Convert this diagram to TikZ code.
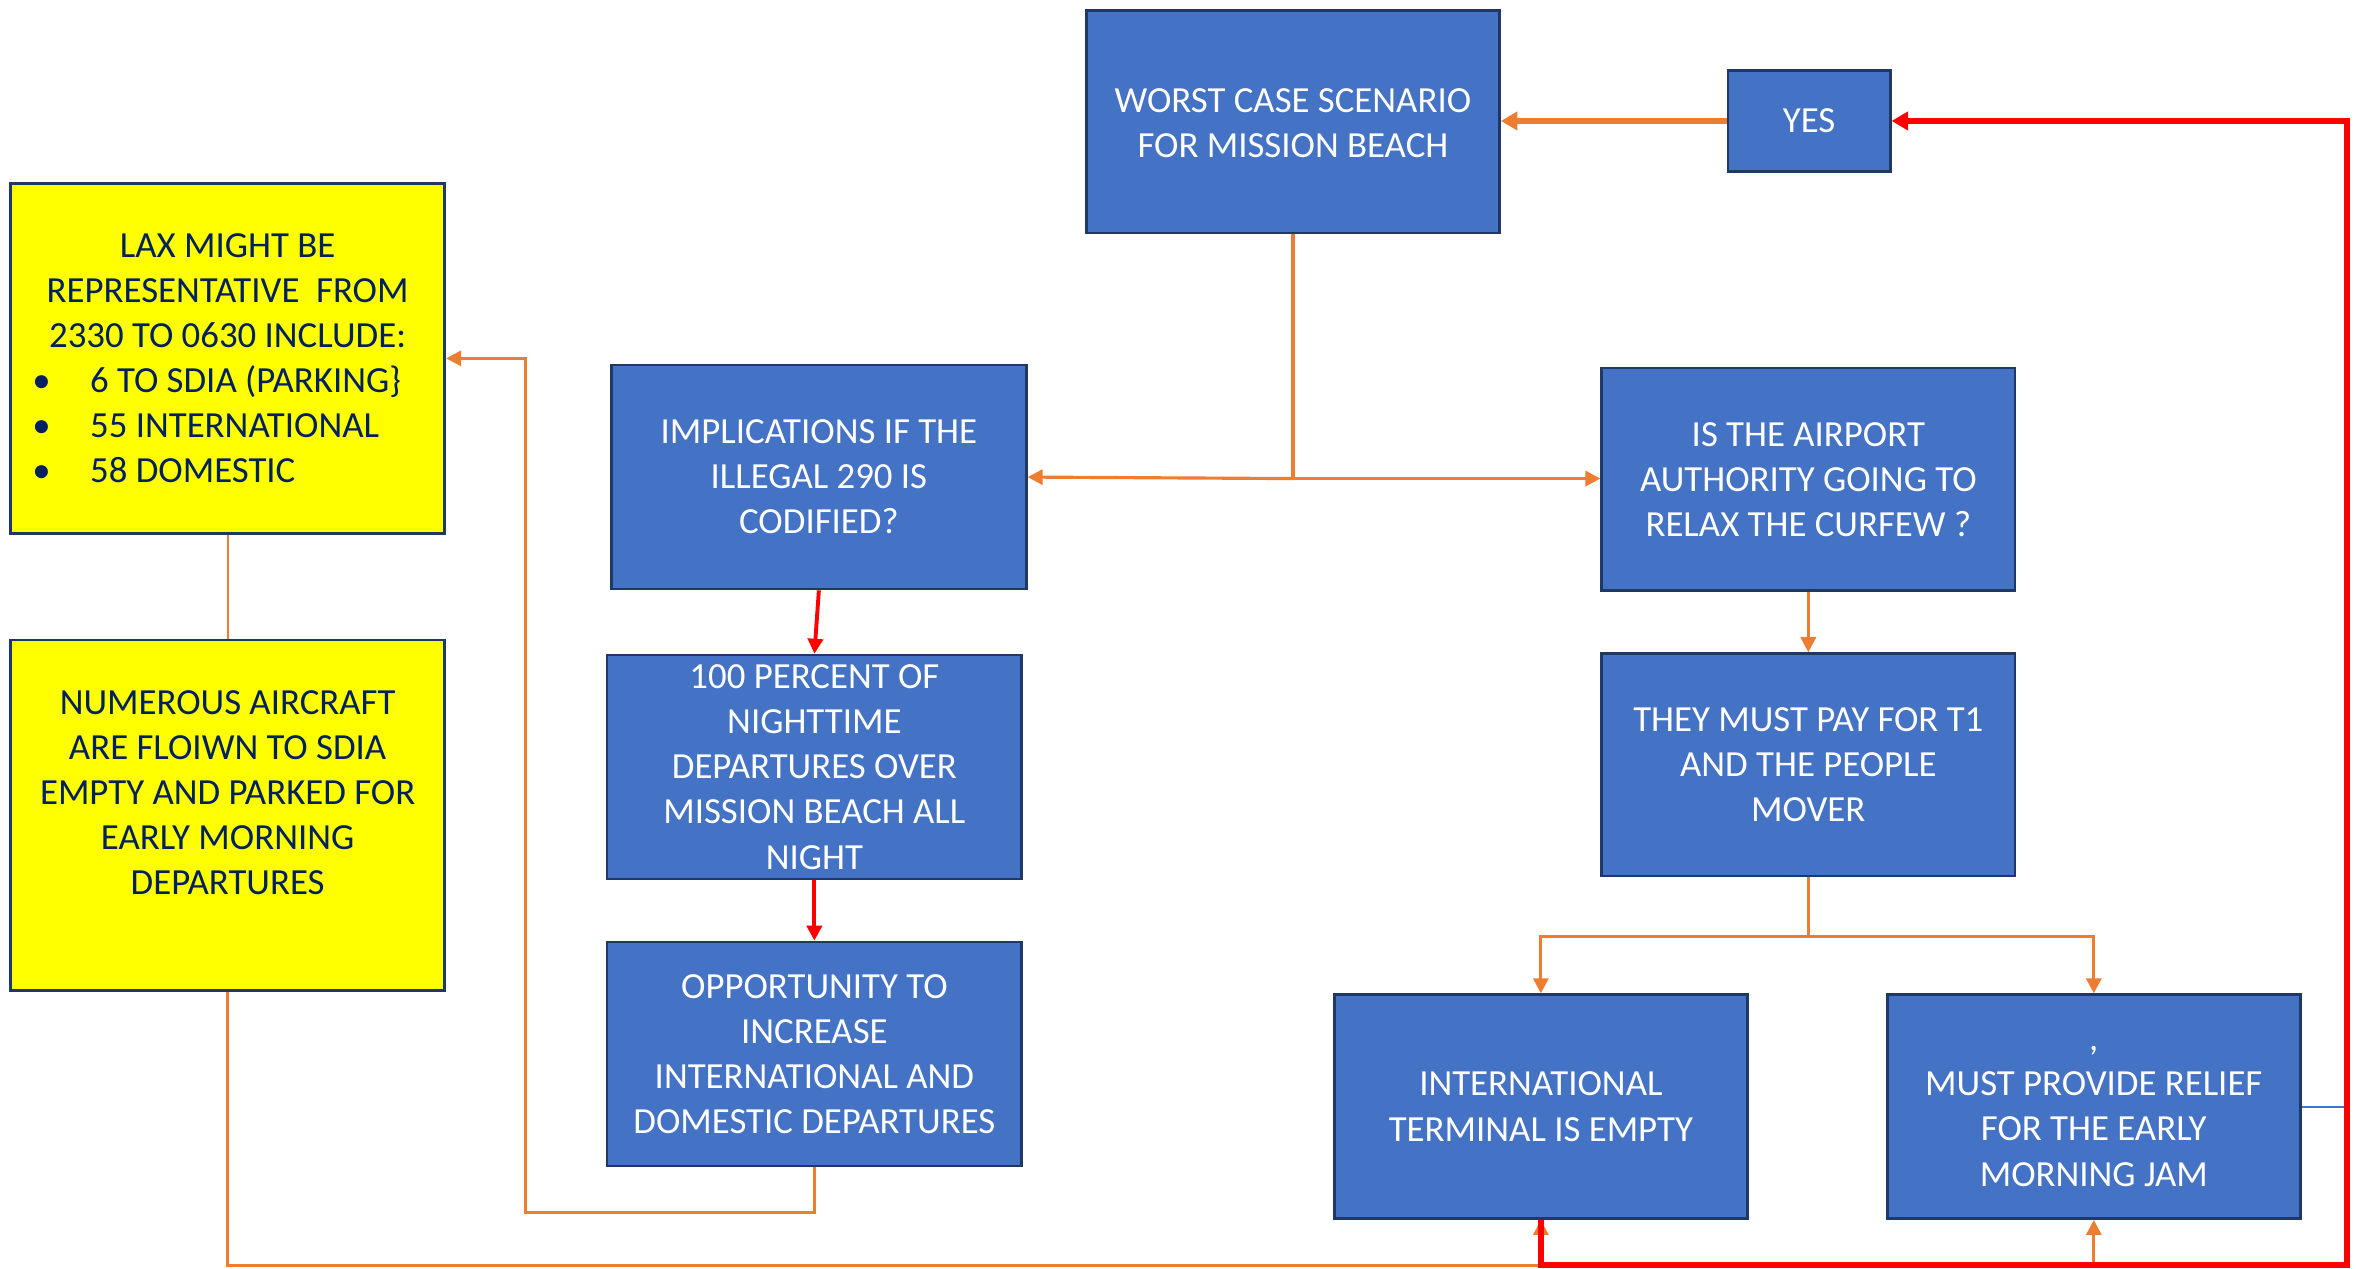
\documentclass[tikz,border=0pt]{standalone}
\usepackage{fontspec}
\setmainfont{Carlito}
\usetikzlibrary{arrows.meta}
\definecolor{boxblue}{HTML}{4472C4}
\definecolor{boxnavy}{HTML}{1F3864}
\definecolor{txtnavy}{HTML}{002060}
\definecolor{linkorange}{HTML}{ED7D31}
\definecolor{linkred}{HTML}{FF0000}
\definecolor{boxyellow}{HTML}{FFFF00}
\begin{document}
\begin{tikzpicture}[x=1pt,y=-1pt,
  bluebox/.style={draw=boxnavy, line width=1.8pt, fill=boxblue, text=white, align=center,
    inner sep=0pt, minimum width=275pt, minimum height=148pt,
    font=\fontsize{24.5}{30}\selectfont},
  yellowbox/.style={draw=boxnavy, line width=1.8pt, fill=boxyellow, text=txtnavy, align=center,
    inner sep=0pt, minimum width=289pt, minimum height=233pt,
    font=\fontsize{24.5}{30}\selectfont},
  orangelink/.style={draw=linkorange, line width=2.1pt, -{Triangle[length=10pt,width=10pt]}},
  orangeplain/.style={draw=linkorange, line width=2.1pt},
  orangethick/.style={draw=linkorange, line width=4pt, -{Triangle[length=11pt,width=12pt]}},
  redlink/.style={draw=linkred, line width=2.6pt, -{Triangle[length=10pt,width=10pt]}},
  redthick/.style={draw=linkred, line width=3.8pt, -{Triangle[length=11pt,width=12pt]}},
  bluelink/.style={draw=boxblue, line width=1.4pt}
]
\useasboundingbox (0,0) rectangle (1568,844);

% nodes
\node[bluebox] (worst) at (860.5,81) {\rule{0pt}{17.5pt}WORST CASE SCENARIO\\FOR MISSION BEACH};
\node[bluebox, minimum width=108pt, minimum height=67pt] (yes) at (1204,80.5) {YES};
\node[yellowbox] (lax) at (151.5,238.5) {LAX MIGHT BE\\REPRESENTATIVE\ \ FROM\\2330 TO 0630 INCLUDE:\\
  \makebox[260pt][l]{\makebox[38.5pt][l]{\textbullet}6 TO SDIA (PARKING\}}\\
  \makebox[260pt][l]{\makebox[38.5pt][l]{\textbullet}55 INTERNATIONAL}\\
  \makebox[260pt][l]{\makebox[38.5pt][l]{\textbullet}58 DOMESTIC}};
\node[yellowbox] (num) at (151.5,542.5) {NUMEROUS AIRCRAFT\\ARE FLOIWN TO SDIA\\EMPTY AND PARKED FOR\\EARLY MORNING\\DEPARTURES\\~};
\node[bluebox, minimum width=276pt, minimum height=149pt] (impl) at (545,317.5) {IMPLICATIONS IF THE\\ILLEGAL 290 IS\\CODIFIED?};
\node[bluebox, minimum width=276pt, minimum height=149pt] (pct) at (542,510.5) {100 PERCENT OF\\NIGHTTIME\\DEPARTURES OVER\\MISSION BEACH ALL\\NIGHT};
\node[bluebox, minimum width=276pt, minimum height=149pt] (opp) at (542,701.5) {OPPORTUNITY TO\\INCREASE\\INTERNATIONAL AND\\DOMESTIC DEPARTURES};
\node[bluebox] (air) at (1203.5,319) {IS THE AIRPORT\\AUTHORITY GOING TO\\RELAX THE CURFEW ?};
\node[bluebox] (pay) at (1203.5,509) {THEY MUST PAY FOR T1\\AND THE PEOPLE\\MOVER};
\node[bluebox, minimum height=149pt] (intl) at (1025.5,736.5) {INTERNATIONAL\\TERMINAL IS EMPTY};
\node[bluebox, minimum height=149pt] (rel) at (1393.5,736.5) {\rule{0pt}{15.8pt},\\MUST PROVIDE RELIEF\\FOR THE EARLY\\MORNING JAM};

% helper coordinates
\coordinate (split1) at (860.5,318.5);
\coordinate (split2) at (1203.5,623);
\coordinate (loopl) at (350,807);
\coordinate (bot) at (151.5,842);
\coordinate (rcorner) at (1562,842);

% connectors
\draw[orangethick] (yes) -- (yes -| worst.east);
\draw[orangeplain] (worst.south) -- (split1);
\draw[orangelink] (split1) -- (impl.east);
\draw[orangelink] (split1) -- (air.west |- split1);
\draw[redlink] (impl.south) -- (pct.north);
\draw[redlink] (pct.south) -- (opp.north);
\draw[orangelink] (opp.south) |- (loopl) |- (lax.east);
\draw[draw=linkorange, line width=1.3pt] (lax.south) -- (num.north);
\draw[orangelink] (air.south) -- (pay.north);
\draw[orangeplain] (pay.south) -- (split2);
\draw[orangelink] (split2) -| (intl.north);
\draw[orangelink] (split2) -| (rel.north);
\draw[orangelink] (num.south) -- (bot) -| (intl.south);
\draw[orangelink] (bot) -| (rel.south);
\draw[bluelink] (rel.east) -- (rel.east -| rcorner);
\draw[redthick] (intl.south) |- (rcorner) |- (yes.east);
\end{tikzpicture}
\end{document}
